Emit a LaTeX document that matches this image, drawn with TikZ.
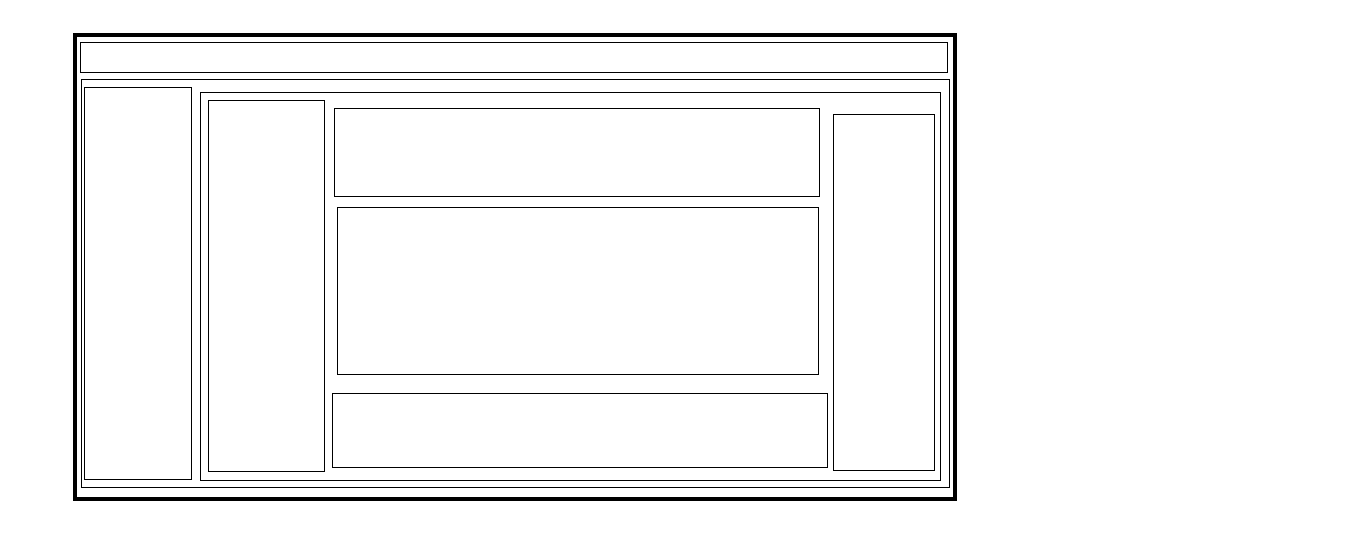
\documentclass[tikz,border=0pt]{standalone}
\usetikzlibrary{positioning}

\begin{document}
\begin{tikzpicture}[
  x=1pt, y=-1pt,
  frame/.style={rectangle, draw=black, line width=4pt, inner sep=0pt,
                outer sep=0pt, anchor=north west},
  panel/.style={rectangle, draw=black, line width=1pt, inner sep=0pt,
                outer sep=0pt, anchor=north west}
]
\useasboundingbox (0,0) rectangle (1354,555);

% outer window and header
\node[frame, minimum width=880pt, minimum height=464.6pt] (page) at (75.3,34.7) {};
\node[panel, minimum width=867pt, minimum height=30pt] (header) at (80.3,42.3) {};

% body with sidebar and main area
\node[panel, minimum width=868.4pt, minimum height=408pt] (body) at (81.3,79.3) {};
\node[panel, minimum width=107.4pt, minimum height=392pt] (sidebar) at (84.3,87.3) {};
\node[panel, minimum width=740pt, minimum height=388.3pt] (main) at (200.3,92) {};

% inside the main area
\node[panel, minimum width=116.3pt, minimum height=371pt] (nav) at (208,100.3) {};
\node[panel, minimum width=485pt, minimum height=87.7pt] (top) at (334.3,108.3) {};
\node[panel, minimum width=480.7pt, minimum height=166.3pt] (content) at (337.3,207.7) {};
\node[panel, minimum width=495pt, minimum height=74pt] (bottom) at (332.3,393.3) {};
\node[panel, minimum width=101pt, minimum height=355.7pt] (aside) at (833.3,114.3) {};

\end{tikzpicture}
\end{document}
